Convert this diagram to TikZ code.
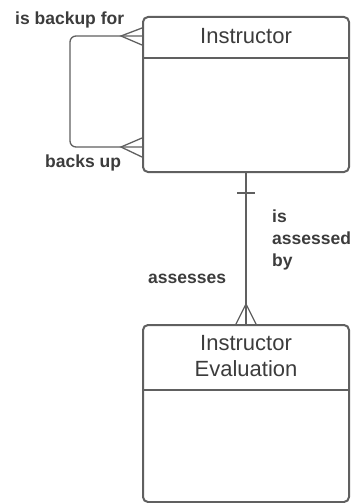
\documentclass[tikz,border=0pt]{standalone}
\usepackage{fontspec}
\setmainfont{Liberation Sans}
\usetikzlibrary{positioning, calc}
\definecolor{erline}{HTML}{606060}
\definecolor{ertext}{HTML}{3C3C3C}
\tikzset{
  entity/.style={draw=erline, line width=2pt, rounded corners=5pt, minimum width=206pt, minimum height=#1, inner sep=0pt},
  divider/.style={draw=erline, line width=2.6pt},
  etitle/.style={text=ertext, font=\fontsize{22}{26}\selectfont, align=center, inner sep=0pt},
  rlabel/.style={text=ertext, font=\bfseries\fontsize{17.5}{21.7}\selectfont, align=left, inner sep=0pt},
  rel/.style={draw=erline, line width=1.3pt},
}
\begin{document}
\begin{tikzpicture}[x=1pt, y=-1pt]
    \useasboundingbox (0,0) rectangle (353,503);
    % entities
    \node[entity=155pt] (Instructor) at (246,94.5) {};
    \node[etitle] (InstructorTitle) at (246,36) {Instructor};
    \draw[divider] (Instructor.west |- 0,58) -- (Instructor.east |- 0,58);
    \node[entity=177pt] (Evaluation) at (246,413.5) {};
    \node[etitle] (EvaluationTitle) at (246,356) {Instructor\\Evaluation};
    \draw[divider] (Evaluation.west |- 0,390) -- (Evaluation.east |- 0,390);
    % recursive backup relationship
    \coordinate (backupFor) at (Instructor.west |- 0,36);
    \coordinate (backsUp) at (Instructor.west |- 0,147);
    \draw[rel, rounded corners=6pt] (backupFor) -- (70,36) -- (70,147) -- (backsUp);
    \draw[rel] ($(backupFor)+(0,-8)$) -- ++(-21,8) -- ($(backupFor)+(0,9)$);
    \draw[rel] ($(backsUp)+(0,-9)$) -- ++(-21,9) -- ($(backsUp)+(0,10)$);
    \node[rlabel, anchor=base west] (lblBackupFor) at (15,24.5) {is backup for};
    \node[rlabel, anchor=base west] (lblBacksUp) at (45,167) {backs up};
    % assessment relationship
    \draw[rel] (Instructor.south) -- (Evaluation.north);
    \draw[rel] (237,193) -- (255,193);
    \draw[rel] ($(Evaluation.north)+(-10,0)$) -- ++(10,-20) -- ($(Evaluation.north)+(10,0)$);
    \node[rlabel, anchor=north west] (lblAssessed) at (272,210) {is\\assessed\\by};
    \node[rlabel, anchor=base west] (lblAssesses) at (148,283) {assesses};
\end{tikzpicture}
\end{document}
